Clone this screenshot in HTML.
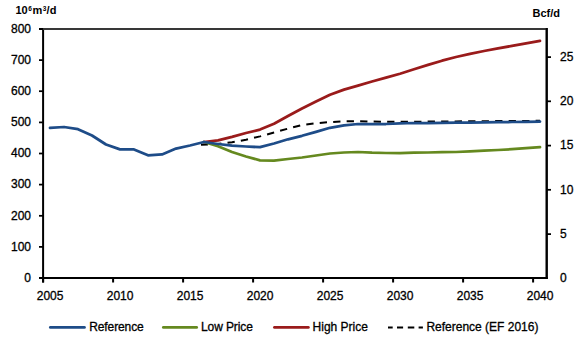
<!DOCTYPE html>
<html><head><meta charset="utf-8">
<style>
html,body{margin:0;padding:0;background:#fff;}
body{width:580px;height:342px;overflow:hidden;}
svg{display:block;}
.t{font-family:"Liberation Sans",sans-serif;font-size:12px;fill:#000;stroke:#000;stroke-width:0.3px;}
.b{font-family:"Liberation Sans",sans-serif;font-size:11px;font-weight:bold;fill:#000;}
.ax{stroke:#000;stroke-width:2;fill:none;}
</style></head><body>
<svg width="580" height="342" viewBox="0 0 580 342">
<text x="31" y="281.8" text-anchor="end" class="t">0</text>
<line x1="39" y1="278.0" x2="43.1" y2="278.0" stroke="#000" stroke-width="1.75"/>
<text x="31" y="250.7" text-anchor="end" class="t">100</text>
<line x1="39" y1="246.9" x2="43.1" y2="246.9" stroke="#000" stroke-width="1.75"/>
<text x="31" y="219.6" text-anchor="end" class="t">200</text>
<line x1="39" y1="215.8" x2="43.1" y2="215.8" stroke="#000" stroke-width="1.75"/>
<text x="31" y="188.4" text-anchor="end" class="t">300</text>
<line x1="39" y1="184.6" x2="43.1" y2="184.6" stroke="#000" stroke-width="1.75"/>
<text x="31" y="157.3" text-anchor="end" class="t">400</text>
<line x1="39" y1="153.5" x2="43.1" y2="153.5" stroke="#000" stroke-width="1.75"/>
<text x="31" y="126.2" text-anchor="end" class="t">500</text>
<line x1="39" y1="122.4" x2="43.1" y2="122.4" stroke="#000" stroke-width="1.75"/>
<text x="31" y="95.0" text-anchor="end" class="t">600</text>
<line x1="39" y1="91.2" x2="43.1" y2="91.2" stroke="#000" stroke-width="1.75"/>
<text x="31" y="63.9" text-anchor="end" class="t">700</text>
<line x1="39" y1="60.1" x2="43.1" y2="60.1" stroke="#000" stroke-width="1.75"/>
<text x="31" y="32.8" text-anchor="end" class="t">800</text>
<line x1="39" y1="29.0" x2="43.1" y2="29.0" stroke="#000" stroke-width="1.75"/>
<text x="560" y="282.1" class="t">0</text>
<text x="560" y="237.9" class="t">5</text>
<line x1="546.7" y1="234.1" x2="551" y2="234.1" stroke="#000" stroke-width="1.75"/>
<text x="560" y="193.6" class="t">10</text>
<line x1="546.7" y1="189.8" x2="551" y2="189.8" stroke="#000" stroke-width="1.75"/>
<text x="560" y="149.4" class="t">15</text>
<line x1="546.7" y1="145.6" x2="551" y2="145.6" stroke="#000" stroke-width="1.75"/>
<text x="560" y="105.1" class="t">20</text>
<line x1="546.7" y1="101.3" x2="551" y2="101.3" stroke="#000" stroke-width="1.75"/>
<text x="560" y="60.9" class="t">25</text>
<line x1="546.7" y1="57.1" x2="551" y2="57.1" stroke="#000" stroke-width="1.75"/>
<line x1="43.1" y1="278" x2="43.1" y2="282.5" class="ax"/>
<text x="50.1" y="300" text-anchor="middle" class="t">2005</text>
<line x1="113.1" y1="278" x2="113.1" y2="282.5" class="ax"/>
<text x="120.1" y="300" text-anchor="middle" class="t">2010</text>
<line x1="183.1" y1="278" x2="183.1" y2="282.5" class="ax"/>
<text x="190.1" y="300" text-anchor="middle" class="t">2015</text>
<line x1="253.1" y1="278" x2="253.1" y2="282.5" class="ax"/>
<text x="260.1" y="300" text-anchor="middle" class="t">2020</text>
<line x1="323.1" y1="278" x2="323.1" y2="282.5" class="ax"/>
<text x="330.1" y="300" text-anchor="middle" class="t">2025</text>
<line x1="393.1" y1="278" x2="393.1" y2="282.5" class="ax"/>
<text x="400.1" y="300" text-anchor="middle" class="t">2030</text>
<line x1="463.1" y1="278" x2="463.1" y2="282.5" class="ax"/>
<text x="470.1" y="300" text-anchor="middle" class="t">2035</text>
<line x1="533.1" y1="278" x2="533.1" y2="282.5" class="ax"/>
<text x="540.1" y="300" text-anchor="middle" class="t">2040</text>
<polyline points="39,29 43.1,29 43.1,282.5" class="ax"/>
<line x1="546.7" y1="28" x2="546.7" y2="279" class="ax"/>
<line x1="43.1" y1="29" x2="546.7" y2="29" stroke="#383838" stroke-width="1.8"/>
<line x1="39" y1="278" x2="547.7" y2="278" class="ax"/>
<line x1="546.7" y1="28" x2="546.7" y2="279" class="ax"/>
<polyline points="201,144.7 218,144 232,142.3 246,139.7 260,136.4 274,132.5 288,128.6 302,125 316,123.2 330,122.1 344,121.3 358,121.2 372,121.6 386,121.8 400,121.8 414,121.7 428,121.6 442,121.5 456,121.4 470,121.3 484,121.2 498,121.1 512,121 526,120.9 540,120.8" fill="none" stroke="#000" stroke-width="2" stroke-dasharray="7.3 6.2" stroke-dashoffset="0.4"/>
<polyline points="204,142 218,146.3 232,152 246,156.5 260,160.3 274,160.7 288,159 302,157.5 316,155.5 330,153.5 344,152.5 358,152 372,152.7 386,153 400,153 414,152.7 428,152.5 442,152.2 456,152 470,151.3 484,150.6 498,150 512,149.2 526,148.2 540,147.1" fill="none" stroke="#65891f" stroke-width="2.75" stroke-linejoin="round" stroke-linecap="round"/>
<polyline points="204,142 218,140.3 232,136.9 246,133 260,129.6 274,123.8 288,116 302,108.5 316,101.6 330,94.8 344,89.6 358,85.6 372,81.5 386,77.6 400,73.7 414,69.3 428,64.9 442,60.7 456,57 470,53.8 484,51 498,48.4 512,45.9 526,43.4 540,40.9" fill="none" stroke="#9a1b1b" stroke-width="2.75" stroke-linejoin="round" stroke-linecap="round"/>
<polyline points="50,127.9 64,127 78,129.2 92,135.5 106,144.5 120,149.4 134,149.4 148,155.3 162,154.4 176,148.6 190,145.5 204,142 218,144 232,145.7 246,146.5 260,147.2 274,143.5 288,139.3 302,135.8 316,131.9 330,127.8 344,125.4 358,124 372,124 386,124 400,123.4 414,123 428,123 442,122.8 456,122.7 470,122.6 484,122.4 498,122.2 512,122 526,121.8 540,121.6" fill="none" stroke="#1e4c88" stroke-width="2.75" stroke-linejoin="round" stroke-linecap="round"/>
<text x="15.5" y="14" class="b">10<tspan font-size="6.5" dx="0.6" dy="-3.2">6</tspan><tspan dx="0.5" dy="3.2">m</tspan><tspan font-size="6.5" dx="0.4" dy="-3.2">3</tspan><tspan dx="0.3" dy="3.2">/d</tspan></text>
<text x="532.5" y="16.6" class="b">Bcf/d</text>
<line x1="50.4" y1="327.4" x2="84.4" y2="327.4" stroke="#1e4c88" stroke-width="2.9" stroke-linecap="round"/>
<text x="89.2" y="331.3" class="t" letter-spacing="-0.1">Reference</text>
<line x1="163.4" y1="327.4" x2="196.6" y2="327.4" stroke="#65891f" stroke-width="2.9" stroke-linecap="round"/>
<text x="201" y="331.3" class="t" letter-spacing="-0.1">Low Price</text>
<line x1="274.5" y1="327.4" x2="308.3" y2="327.4" stroke="#9a1b1b" stroke-width="2.9" stroke-linecap="round"/>
<text x="312.6" y="331.3" class="t">High Price</text>
<line x1="388" y1="327.4" x2="423" y2="327.4" stroke="#000" stroke-width="2" stroke-dasharray="4.7 4.3 6.1 4.7 6.5 4.3 4.3"/>
<text x="426.4" y="331.3" class="t">Reference (EF 2016)</text>
</svg>
</body></html>
